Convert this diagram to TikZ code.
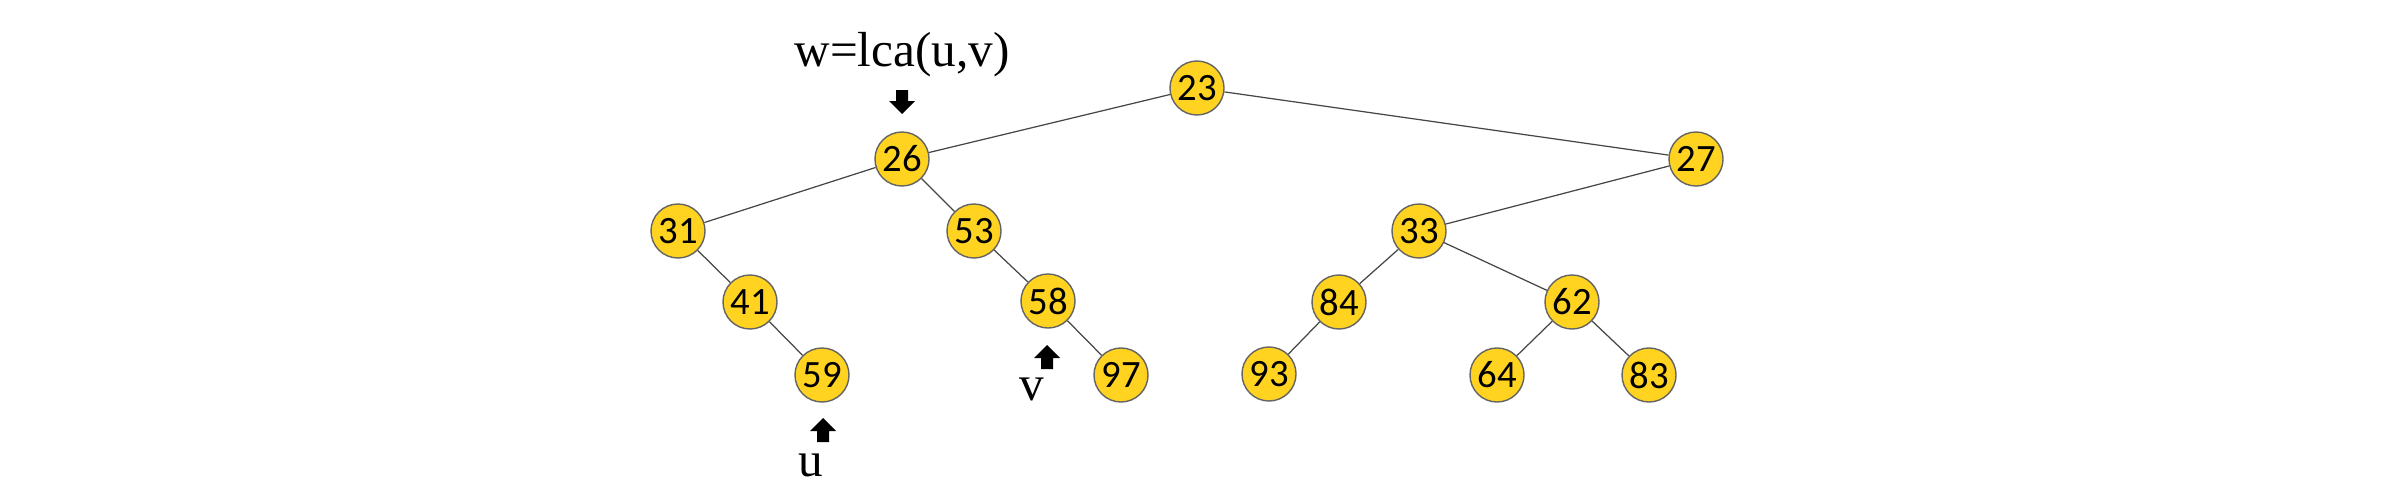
\documentclass[tikz,border=0pt]{standalone}
\usepackage{fontspec}
\setmainfont{Liberation Serif}
\newfontfamily\keyfont{Carlito}
\definecolor{sunflower}{RGB}{255, 211, 32}
\definecolor{rimgray}{RGB}{100, 100, 100}
\definecolor{edgegray}{RGB}{70, 70, 70}
\tikzset{
    vtx/.style   = {circle, fill=sunflower, draw=rimgray, line width=0.4pt, minimum size=0.54cm,
                    inner sep=0pt, font=\keyfont\fontsize{11}{13}\selectfont},
    tag/.style   = {inner sep=0pt, font=\fontsize{14}{17}\selectfont},
    link/.style  = {draw=edgegray, line width=0.35pt},
    pointer/.pic = {\fill (-6,-12) -- (6,-12) -- (6,-1) -- (13,-1) -- (0,12) -- (-13,-1) -- (-6,-1) -- cycle;}
}
\begin{document}
\begin{tikzpicture}[x=0.01cm, y=-0.01cm]
            \useasboundingbox (0,0) rectangle (2400,500);
            \node[vtx] (n23) at (1197, 88) {23};
            \node[vtx] (n26) at ( 902,159) {26};
            \node[vtx] (n27) at (1696,159) {27};
            \node[vtx] (n31) at ( 678,231) {31};
            \node[vtx] (n53) at ( 974,231) {53};
            \node[vtx] (n33) at (1419,231) {33};
            \node[vtx] (n41) at ( 750,302) {41};
            \node[vtx] (n58) at (1048,301) {58};
            \node[vtx] (n84) at (1339,302) {84};
            \node[vtx] (n62) at (1572,302) {62};
            \node[vtx] (n59) at ( 822,375) {59};
            \node[vtx] (n97) at (1121,375) {97};
            \node[vtx] (n93) at (1269,374) {93};
            \node[vtx] (n64) at (1497,375) {64};
            \node[vtx] (n83) at (1649,375) {83};
            \path[link] (n23) -- (n26)  (n23) -- (n27)
                        (n26) -- (n31)  (n26) -- (n53)
                        (n31) -- (n41)  (n41) -- (n59)
                        (n53) -- (n58)  (n58) -- (n97)
                        (n27) -- (n33)  (n33) -- (n84)  (n33) -- (n62)
                        (n84) -- (n93)  (n62) -- (n64)  (n62) -- (n83);
            \pic                at ( 902,102) {pointer};
            \pic[rotate=180]    at ( 823,430) {pointer};
            \pic[rotate=180]    at (1047,357) {pointer};
            \node[tag] (wlabel) at ( 902, 55) {w=lca(u,v)};
            \node[tag] (ulabel) at ( 811,465) {u};
            \node[tag] (vlabel) at (1032,389) {v};
            \end{tikzpicture}
\end{document}
